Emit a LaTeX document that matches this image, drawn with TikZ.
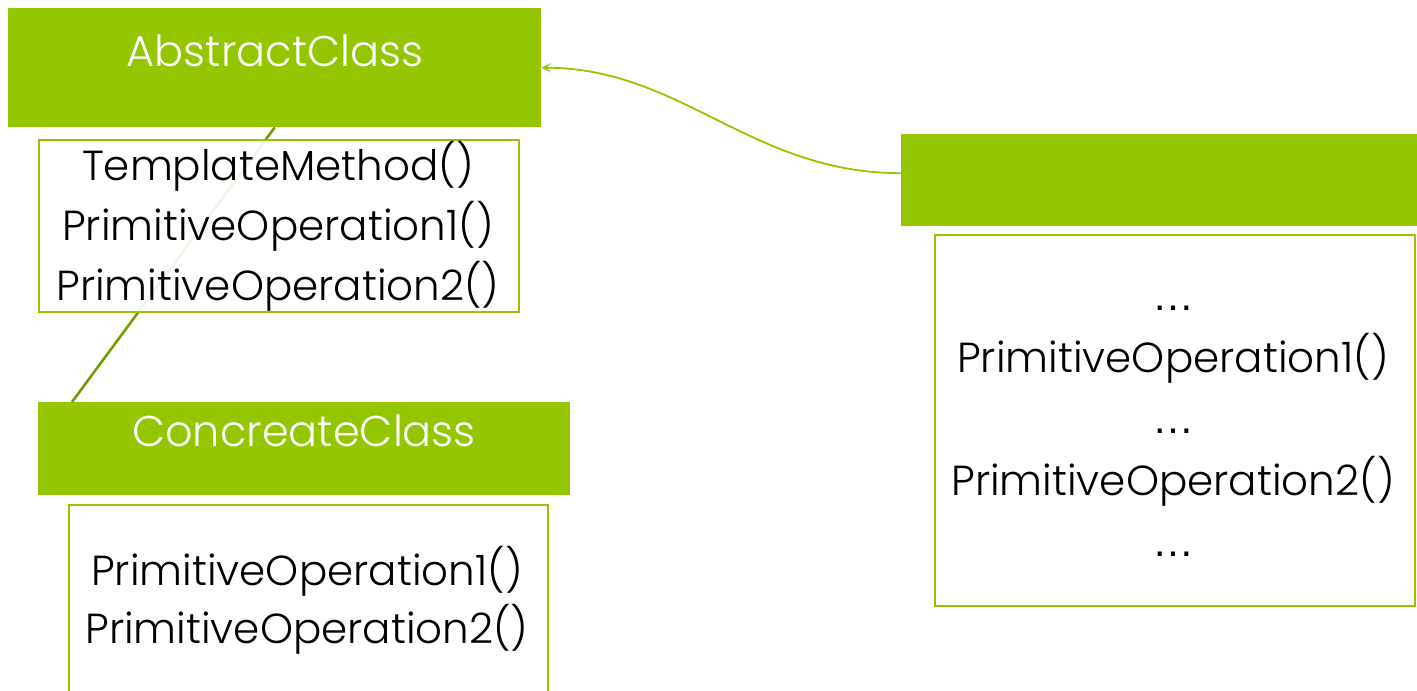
\documentclass[tikz,border=0pt]{standalone}
\usepackage{fontspec}
\setmainfont{Poppins}[UprightFont={* Light}]
\newfontfamily\dotfont{Liberation Sans}
\usetikzlibrary{arrows.meta,calc}
\definecolor{grn}{RGB}{148,198,0}
\definecolor{dgrn}{RGB}{112,158,0}
\begin{document}
\begin{tikzpicture}[x=1pt,y=-1pt,
  hdr/.style={fill=grn, draw=none, anchor=north west, inner sep=0pt},
  body/.style={draw=grn, line width=1.5pt, fill=white, fill opacity=0.9, anchor=north west, inner sep=0pt},
  ttl/.style={text=white, font=\fontsize{43}{50}\selectfont, anchor=base, inner sep=0pt},
  txt/.style={text=black, font=\fontsize{42}{50}\selectfont, anchor=base, inner sep=0pt},
  dots/.style={text=black, font=\dotfont\fontsize{42}{50}\selectfont, anchor=base, inner sep=0pt},
  conn/.style={draw=grn, line width=1.8pt, -{Stealth[length=10pt,width=10pt,inset=5pt]}},
  gen/.style={draw=dgrn, line width=2.6pt}]
\useasboundingbox (0,0) rectangle (1417,691);
\clip (0,0) rectangle (1417,691);
% headers
\node[hdr, minimum width=533pt, minimum height=119pt] (abs) at (8,8) {};
\node[hdr, minimum width=532pt, minimum height=93pt] (conc) at (38,402) {};
\node[hdr, minimum width=516pt, minimum height=92pt] (rh) at (901,134) {};
% generalisation line
\coordinate (cend) at ($(conc.north west)+(34,0)$);
\draw[gen] (abs.south) -- (cend);
% bodies
\node[body, minimum width=480pt, minimum height=172pt] (absb) at (38,139) {};
\node[body, minimum width=479pt, minimum height=220pt] (concb) at (68,504) {};
\node[body, minimum width=480pt, minimum height=371pt] (rb) at (934,234) {};
% arrow
\draw[conn] ($(rh.west)+(0,-7)$) .. controls +(-150,0) and +(140,0) .. (abs.east);
% titles
\node[ttl] (absT) at (275,66) {AbstractClass};
\node[ttl] (concT) at (304,446) {ConcreateClass};
% abstract body text
\node[txt] (a1) at (278,180) {TemplateMethod()};
\node[txt] (a2) at (278,240) {PrimitiveOperation1()};
\node[txt] (a3) at (278,300) {PrimitiveOperation2()};
% concrete body text
\node[txt] (c1) at (307,585) {PrimitiveOperation1()};
\node[txt] (c2) at (307,643) {PrimitiveOperation2()};
% right body text
\node[dots] (r1) at (1173,310) {…};
\node[txt] (r2) at (1173,372) {PrimitiveOperation1()};
\node[dots] (r3) at (1173,433) {…};
\node[txt] (r4) at (1173,495) {PrimitiveOperation2()};
\node[dots] (r5) at (1173,556) {…};
\end{tikzpicture}
\end{document}
